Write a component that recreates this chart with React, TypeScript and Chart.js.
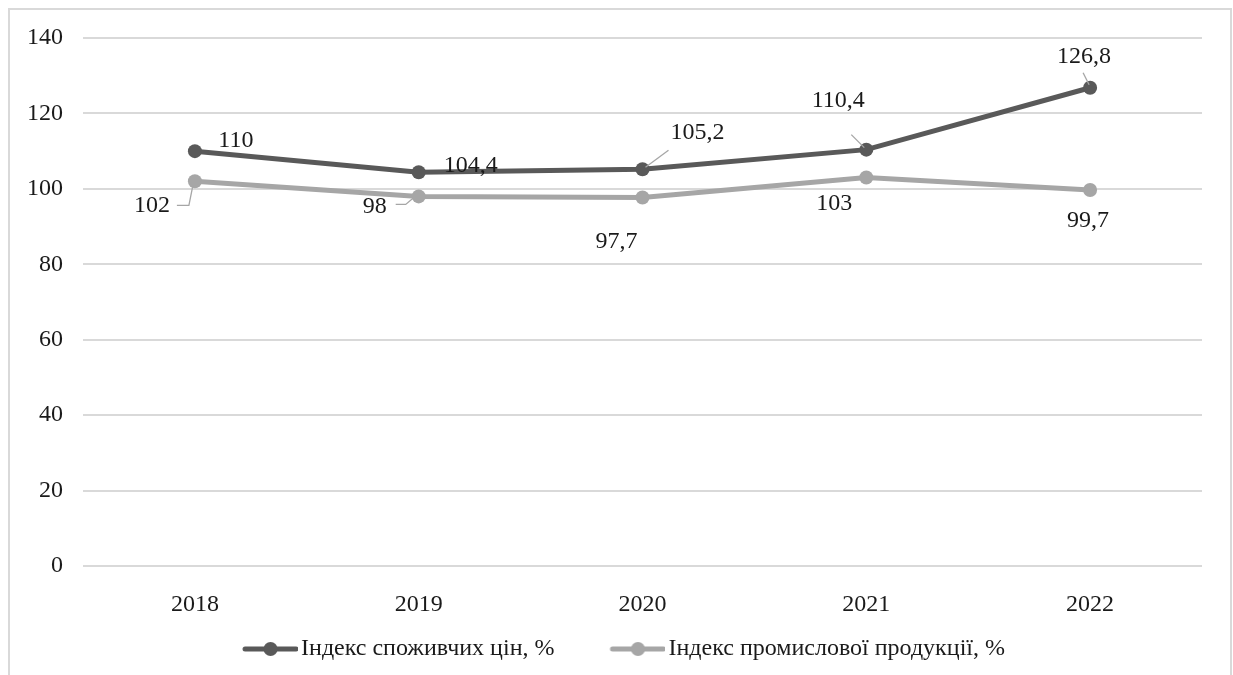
import React, { useEffect, useRef } from "react";
import { Chart, registerables } from "chart.js";

Chart.register(...registerables);

// ---- data ----
const years = ["2018", "2019", "2020", "2021", "2022"];
const cpiValues = [110, 104.4, 105.2, 110.4, 126.8];
const industryValues = [102, 98, 97.7, 103, 99.7];
const yTickValues = [0, 20, 40, 60, 80, 100, 120, 140];
const seriesNames = ["Індекс споживчих цін, %", "Індекс промислової продукції, %"];

// ---- label placement (pixel offsets from each point; optional leader polyline) ----
type LabelPlacement = { dx: number; dy: number; leader?: [number, number][] };

const cpiLabelPlacement: LabelPlacement[] = [
  { dx: 41, dy: -10 },
  { dx: 52, dy: -7 },
  { dx: 55, dy: -37, leader: [[26, -19], [3, -2]] },
  { dx: -28, dy: -49, leader: [[-15, -15], [-2, -2]] },
  { dx: -6, dy: -31, leader: [[-7, -15], [-1, -3]] },
];

const industryLabelPlacement: LabelPlacement[] = [
  { dx: -43, dy: 24, leader: [[-18, 24], [-6, 24], [-2, 4]] },
  { dx: -44, dy: 10, leader: [[-23, 8], [-13, 8], [-6, 2]] },
  { dx: -26, dy: 44 },
  { dx: -32, dy: 26 },
  { dx: -2, dy: 31 },
];

// ---- styles ----
const FONT_FAMILY = "'Liberation Serif', 'Times New Roman', serif";
const FONT_SIZE = 24;
const TEXT_COLOR = "#1a1a1a";
const DARK = "#595959";
const LIGHT = "#a6a6a6";
const GRID = "#d9d9d9";

const formatValue = (v: number) => String(v).replace(".", ",");

// Legend swatch: a thick line with a dot in the middle, placed in the right half of the image
function makeSwatch(color: string): HTMLCanvasElement {
  const c = document.createElement("canvas");
  const w = 110;
  const h = 16;
  c.width = w;
  c.height = h;
  const g = c.getContext("2d")!;
  g.strokeStyle = color;
  g.lineWidth = 5;
  g.lineCap = "round";
  g.beginPath();
  g.moveTo(57, h / 2);
  g.lineTo(108, h / 2);
  g.stroke();
  g.fillStyle = color;
  g.beginPath();
  g.arc(82.5, h / 2, 7, 0, Math.PI * 2);
  g.fill();
  return c;
}

const valueLabelPlugin = {
  id: "valueLabels",
  afterDatasetsDraw(chart: any) {
    const ctx: CanvasRenderingContext2D = chart.ctx;
    const placements = [cpiLabelPlacement, industryLabelPlacement];
    chart.data.datasets.forEach((ds: any, di: number) => {
      const meta = chart.getDatasetMeta(di);
      meta.data.forEach((pt: any, i: number) => {
        const p = placements[di][i];
        const x = pt.x;
        const y = pt.y;
        if (p.leader) {
          ctx.save();
          ctx.strokeStyle = LIGHT;
          ctx.lineWidth = 1.3;
          ctx.beginPath();
          p.leader.forEach(([lx, ly], k) => {
            if (k === 0) ctx.moveTo(x + lx, y + ly);
            else ctx.lineTo(x + lx, y + ly);
          });
          ctx.stroke();
          ctx.restore();
        }
        ctx.save();
        ctx.font = `${FONT_SIZE}px ${FONT_FAMILY}`;
        ctx.fillStyle = TEXT_COLOR;
        ctx.textAlign = "center";
        ctx.textBaseline = "middle";
        ctx.fillText(formatValue(ds.data[i]), x + p.dx, y + p.dy);
        ctx.restore();
      });
    });
  },
};

export default function App() {
  const canvasRef = useRef<HTMLCanvasElement | null>(null);

  useEffect(() => {
    if (!canvasRef.current) return;
    const swatches = [makeSwatch(DARK), makeSwatch(LIGHT)];
    const chart = new Chart(canvasRef.current, {
      type: "line",
      data: {
        labels: years,
        datasets: [
          {
            label: seriesNames[0],
            data: cpiValues,
            borderColor: DARK,
            backgroundColor: DARK,
            borderWidth: 5,
            pointRadius: 7,
            pointBorderWidth: 0,
            pointBackgroundColor: DARK,
            tension: 0,
          },
          {
            label: seriesNames[1],
            data: industryValues,
            borderColor: LIGHT,
            backgroundColor: LIGHT,
            borderWidth: 5,
            pointRadius: 7,
            pointBorderWidth: 0,
            pointBackgroundColor: LIGHT,
            tension: 0,
          },
        ],
      },
      options: {
        animation: false,
        responsive: true,
        maintainAspectRatio: false,
        layout: { padding: { left: 0, right: 31, top: 38, bottom: 4 } },
        scales: {
          x: {
            offset: true,
            afterFit(scale: any) {
              scale.height = 61;
            },
            grid: { display: false, drawTicks: false },
            border: { display: false },
            ticks: {
              padding: 24,
              color: TEXT_COLOR,
              font: { family: FONT_FAMILY, size: FONT_SIZE },
            },
          },
          y: {
            min: 0,
            max: 140,
            afterFit(scale: any) {
              scale.width = 83;
            },
            afterBuildTicks(scale: any) {
              scale.ticks = yTickValues.map((v) => ({ value: v }));
            },
            grid: { color: GRID, lineWidth: 2, drawTicks: false },
            border: { display: false },
            ticks: {
              padding: 20,
              color: TEXT_COLOR,
              font: { family: FONT_FAMILY, size: FONT_SIZE },
            },
          },
        },
        plugins: {
          tooltip: { enabled: false },
          legend: {
            position: "bottom",
            labels: {
              usePointStyle: true,
              pointStyleWidth: 92,
              padding: 10,
              color: TEXT_COLOR,
              font: { family: FONT_FAMILY, size: FONT_SIZE },
              generateLabels: (c: any) =>
                c.data.datasets.map((ds: any, i: number) => ({
                  text: ds.label,
                  pointStyle: swatches[i],
                  fillStyle: ds.borderColor,
                  strokeStyle: ds.borderColor,
                  lineWidth: 0,
                  hidden: false,
                  datasetIndex: i,
                  fontColor: TEXT_COLOR,
                })),
            },
          },
        },
      },
      plugins: [valueLabelPlugin],
    });
    return () => chart.destroy();
  }, []);

  return (
    <>
      <div
        style={{
          position: "fixed",
          left: 0,
          top: 0,
          width: 1233,
          height: 675,
          background: "#fff",
        }}
      >
        <canvas ref={canvasRef} />
      </div>
      <div
        style={{
          position: "fixed",
          left: 8,
          top: 8,
          width: 1224,
          height: 700,
          border: "2px solid #d9d9d9",
          boxSizing: "border-box",
          pointerEvents: "none",
        }}
      />
    </>
  );
}
